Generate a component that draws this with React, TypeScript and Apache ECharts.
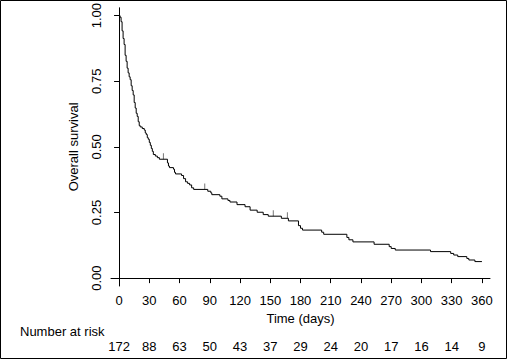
import React, { useEffect, useRef } from "react";
import * as echarts from "echarts";

// Kaplan–Meier step points (time in days, overall survival)
const times = [
  0, 1, 2, 3, 4, 5, 6, 7, 8, 9, 10, 11, 12, 13, 14, 15, 16, 17, 18, 19, 20, 21, 23, 25, 26, 27, 28, 29,
  30, 31, 32, 33, 34, 36, 38, 40, 48, 49, 50, 54, 55, 56, 62, 64, 66, 68, 70, 72, 74, 88, 91, 92, 100,
  102, 108, 110, 117, 125, 130, 137, 143, 148, 161, 168, 178, 180, 182, 201, 203, 226, 228, 232, 253,
  268, 270, 274, 309, 329, 332, 336, 345, 347, 353, 360,
];
const survival = [
  1.0, 0.994, 0.977, 0.942, 0.913, 0.89, 0.849, 0.826, 0.8, 0.782, 0.767, 0.756, 0.733, 0.715, 0.698,
  0.669, 0.648, 0.628, 0.616, 0.596, 0.581, 0.576, 0.57, 0.564, 0.553, 0.547, 0.535, 0.529, 0.517, 0.506,
  0.494, 0.483, 0.471, 0.465, 0.459, 0.453, 0.439, 0.427, 0.421, 0.415, 0.403, 0.397, 0.391, 0.379,
  0.367, 0.361, 0.355, 0.344, 0.338, 0.331, 0.325, 0.318, 0.312, 0.302, 0.296, 0.29, 0.28, 0.272, 0.259,
  0.251, 0.242, 0.236, 0.228, 0.218, 0.2, 0.19, 0.183, 0.175, 0.167, 0.155, 0.146, 0.138, 0.129, 0.12,
  0.113, 0.107, 0.101, 0.094, 0.088, 0.082, 0.075, 0.069, 0.063, 0.063,
];
// Censored observations
const censorTimes = [44, 85, 153, 167];
const censorSurvival = [0.453, 0.338, 0.236, 0.228];
// Axis ticks and number at risk
const xTicks = [0, 30, 60, 90, 120, 150, 180, 210, 240, 270, 300, 330, 360];
const numberAtRisk = [172, 88, 63, 50, 43, 37, 29, 24, 20, 17, 16, 14, 9];
const yTicks = [0, 0.25, 0.5, 0.75, 1];

const FONT = "'Liberation Sans', Arial, Helvetica, sans-serif";

export default function App() {
  const ref = useRef<HTMLDivElement>(null);
  useEffect(() => {
    if (!ref.current) return;
    const chart = echarts.init(ref.current, null, { renderer: "svg" });
    const textStyle = { fontFamily: FONT, fontSize: 13, color: "#000" };
    chart.setOption({
      animation: false,
      backgroundColor: "#fff",
      textStyle: { fontFamily: FONT },
      grid: { left: 111, top: 7, width: 379, height: 279, containLabel: false },
      xAxis: [
        {
          type: "value",
          min: -8,
          max: 368,
          position: "bottom",
          name: "Time (days)",
          nameLocation: "middle",
          nameGap: 21,
          nameTextStyle: textStyle,
          splitLine: { show: false },
          axisLine: { show: true, lineStyle: { color: "#000", width: 1 } },
          axisTick: { show: true, length: 5, customValues: xTicks, lineStyle: { color: "#000" } },
          axisLabel: { ...textStyle, margin: 8, customValues: xTicks, formatter: (v: number) => String(v) },
        },
        {
          type: "value",
          min: -8,
          max: 368,
          position: "bottom",
          offset: 50,
          splitLine: { show: false },
          axisLine: { show: false },
          axisTick: { show: false },
          axisLabel: {
            ...textStyle,
            margin: 4,
            customValues: xTicks,
            formatter: (v: number) => {
              const i = xTicks.indexOf(v);
              return i >= 0 ? String(numberAtRisk[i]) : "";
            },
          },
        },
      ],
      yAxis: {
        type: "value",
        min: -0.03,
        max: 1.03,
        name: "Overall survival",
        nameLocation: "middle",
        nameGap: 31,
        nameTextStyle: textStyle,
        splitLine: { show: false },
        axisLine: { show: true, lineStyle: { color: "#000", width: 1 } },
        axisTick: { show: true, length: 5, customValues: yTicks, lineStyle: { color: "#000" } },
        axisLabel: {
          ...textStyle,
          margin: 8,
          rotate: 90,
          customValues: yTicks,
          formatter: (v: number) => v.toFixed(2),
        },
      },
      graphic: [
        {
          type: "rect",
          shape: { x: 0.5, y: 0.5, width: 506, height: 358 },
          style: { fill: "none", stroke: "#000", lineWidth: 1 },
          silent: true,
        },
        {
          type: "text",
          left: 20,
          top: 325,
          style: { text: "Number at risk", font: `13px ${FONT}`, fill: "#000" },
        },
      ],
      series: [
        {
          type: "line",
          step: "end",
          xAxisIndex: 0,
          data: times.map((t, i) => [t, survival[i]]),
          showSymbol: false,
          symbol: "none",
          lineStyle: { color: "#000", width: 1 },
          silent: true,
        },
        {
          type: "scatter",
          xAxisIndex: 0,
          data: censorTimes.map((t, i) => [t, censorSurvival[i]]),
          symbol: "rect",
          symbolSize: [1, 6],
          symbolOffset: [0, -3],
          itemStyle: { color: "#555" },
          silent: true,
        },
      ],
    });
    return () => chart.dispose();
  }, []);
  return (
    <div
      ref={ref}
      style={{ position: "absolute", left: 0, top: 0, width: 507, height: 360 }}
    />
  );
}
